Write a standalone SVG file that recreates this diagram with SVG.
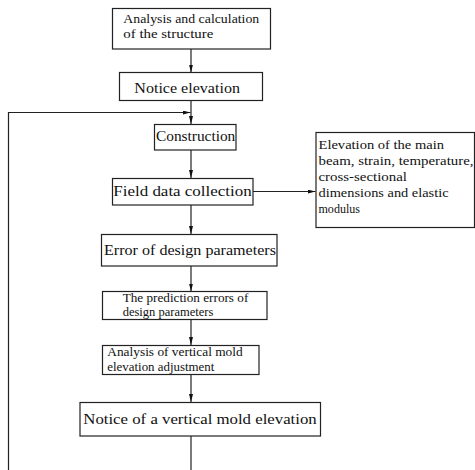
<svg xmlns="http://www.w3.org/2000/svg" width="475" height="470" viewBox="0 0 475 470">
<defs>
<style>
.box{fill:#fff;stroke:#222;stroke-width:1.2}
.ln{fill:none;stroke:#222;stroke-width:1.2}
text{font-family:"Liberation Serif","Noto Sans CJK SC",serif;fill:#111}
.big{font-size:15px}
.sm{font-size:12.5px}
</style>
<marker id="ah" viewBox="0 0 8 4" refX="8" refY="2" markerWidth="8" markerHeight="4" markerUnits="userSpaceOnUse" orient="auto">
<path d="M0,0 L8,2 L0,4 Z" fill="#111"/>
</marker>
</defs>
<rect width="475" height="470" fill="#fff"/>
<g id="connectors">
<line class="ln" x1="191" y1="49" x2="191" y2="72.5" marker-end="url(#ah)"/>
<line class="ln" x1="191" y1="100.5" x2="191" y2="124" marker-end="url(#ah)"/>
<polyline class="ln" points="8.5,470 8.5,112.5 190.5,112.5" marker-end="url(#ah)"/>
<line class="ln" x1="191" y1="150" x2="191" y2="178" marker-end="url(#ah)"/>
<line class="ln" x1="253" y1="191.5" x2="315.5" y2="191.5" marker-end="url(#ah)"/>
<line class="ln" x1="191" y1="205" x2="191" y2="234" marker-end="url(#ah)"/>
<line class="ln" x1="191" y1="266" x2="191" y2="291.5" marker-end="url(#ah)"/>
<line class="ln" x1="191" y1="319.5" x2="191" y2="345" marker-end="url(#ah)"/>
<line class="ln" x1="191" y1="374" x2="191" y2="402" marker-end="url(#ah)"/>
<line class="ln" x1="191" y1="436" x2="191" y2="470"/>
</g>
<g id="n1">
<rect class="box" x="112.5" y="8.5" width="158" height="40.5"/>
<text class="sm" x="123.3" y="23" textLength="136" lengthAdjust="spacingAndGlyphs">Analysis and calculation</text>
<text class="sm" x="123.3" y="38" textLength="90" lengthAdjust="spacingAndGlyphs">of the structure</text>
</g>
<g id="n2">
<rect class="box" x="119.5" y="72.5" width="143" height="28"/>
<text class="big" x="134.3" y="92.5" textLength="105.7" lengthAdjust="spacingAndGlyphs">Notice elevation</text>
</g>
<g id="n3">
<rect class="box" x="154.5" y="124.5" width="81.5" height="25.5"/>
<text class="big" x="156" y="140.5" textLength="79.3" lengthAdjust="spacingAndGlyphs">Construction</text>
</g>
<g id="n4">
<rect class="box" x="112.5" y="178.5" width="140.5" height="26.5"/>
<text class="big" x="113.3" y="195.5" textLength="138.4" lengthAdjust="spacingAndGlyphs">Field data collection</text>
</g>
<g id="n5">
<rect class="box" x="316" y="132.5" width="158.5" height="95"/>
<text class="sm" x="318.5" y="149" textLength="125.5" lengthAdjust="spacingAndGlyphs">Elevation of the main</text>
<text class="sm" x="318.5" y="165" textLength="155" lengthAdjust="spacingAndGlyphs">beam, strain, temperature,</text>
<text class="sm" x="318.5" y="180.5" textLength="88.5" lengthAdjust="spacingAndGlyphs">cross-sectional</text>
<text class="sm" x="318.5" y="196.5" textLength="130" lengthAdjust="spacingAndGlyphs">dimensions and elastic</text>
<text class="sm" x="318.5" y="213" textLength="41.5" lengthAdjust="spacingAndGlyphs">modulus</text>
</g>
<g id="n6">
<rect class="box" x="101.5" y="234.5" width="175.5" height="31.5"/>
<text class="big" x="104" y="254.5" textLength="172" lengthAdjust="spacingAndGlyphs">Error of design parameters</text>
</g>
<g id="n7">
<rect class="box" x="102.5" y="291.5" width="164.5" height="28"/>
<text class="sm" x="122.7" y="302" textLength="125.6" lengthAdjust="spacingAndGlyphs">The prediction errors of</text>
<text class="sm" x="122.7" y="316" textLength="90.6" lengthAdjust="spacingAndGlyphs">design parameters</text>
</g>
<g id="n8">
<rect class="box" x="102.5" y="345.5" width="156.5" height="29"/>
<text class="sm" x="107.3" y="355.5" textLength="135.4" lengthAdjust="spacingAndGlyphs">Analysis of vertical mold</text>
<text class="sm" x="107.3" y="370.5" textLength="107" lengthAdjust="spacingAndGlyphs">elevation adjustment</text>
</g>
<g id="n9">
<rect class="box" x="80" y="402.5" width="240.5" height="33.5"/>
<text class="big" x="83.3" y="424" textLength="233.4" lengthAdjust="spacingAndGlyphs">Notice of a vertical mold elevation</text>
</g>
</svg>
